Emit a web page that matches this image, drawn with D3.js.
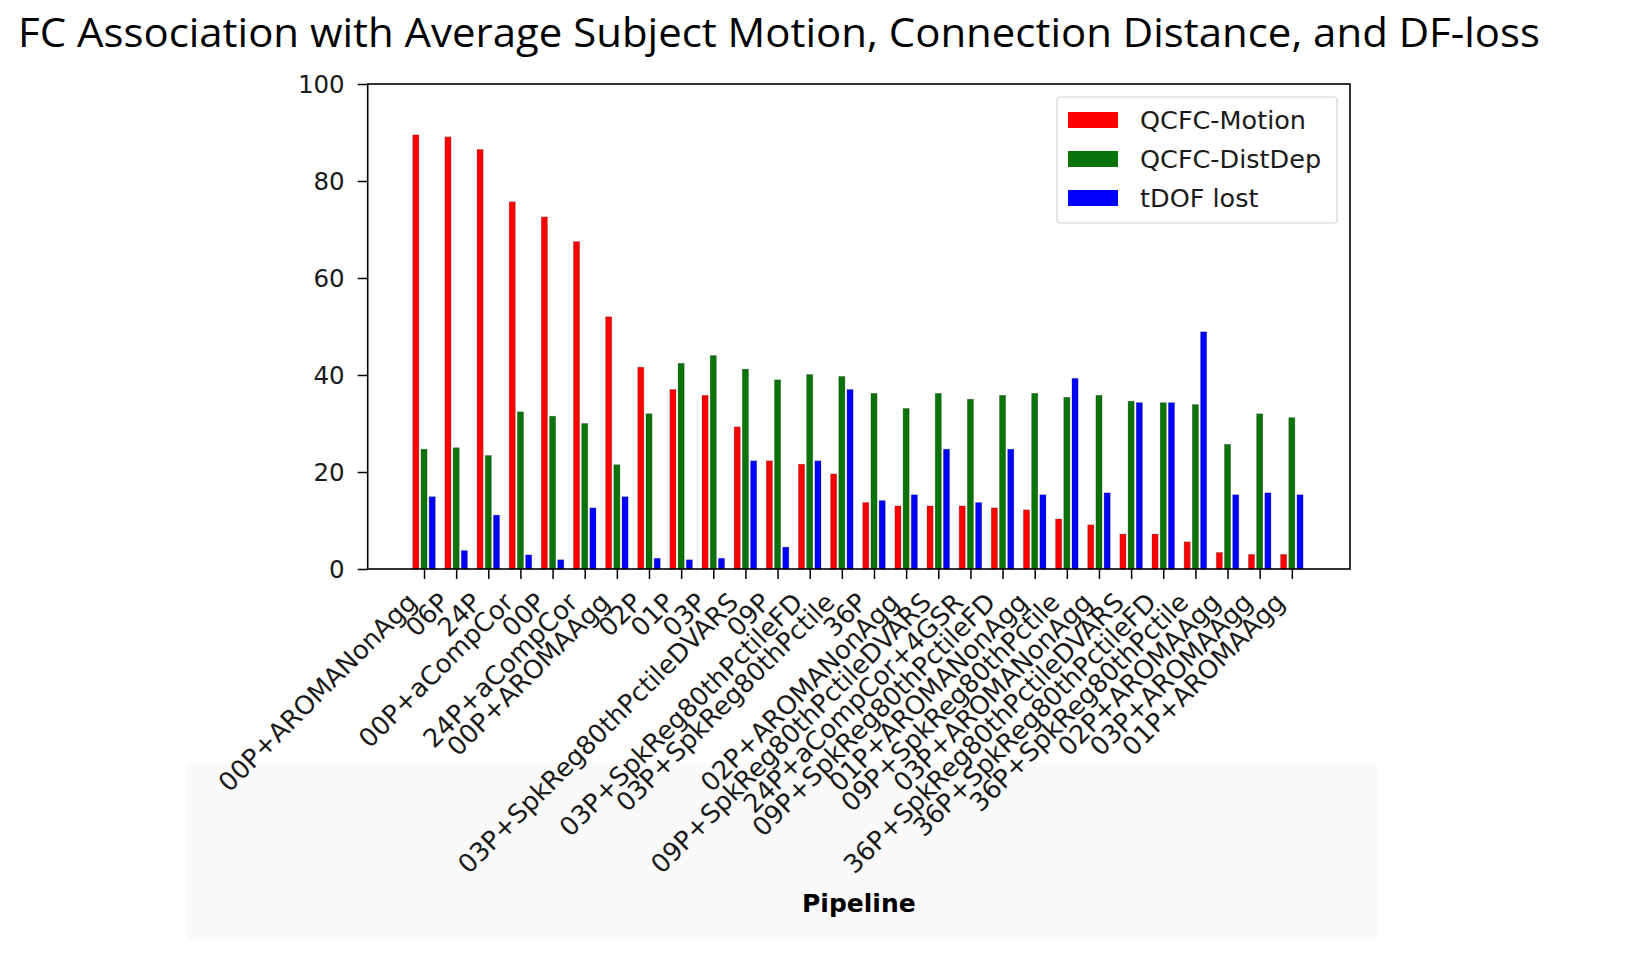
<!DOCTYPE html>
<html>
<head>
<meta charset="utf-8">
<script src="https://cdn.jsdelivr.net/npm/d3@7"></script>
<style>
  html, body { margin: 0; padding: 0; background: #ffffff; }
  svg { display: block; }
</style>
</head>
<body>
<svg id="chart" width="1635" height="967"></svg>
<script>
const pipelines = [
  "00P+AROMANonAgg", "06P", "24P", "00P+aCompCor", "00P", "24P+aCompCor",
  "00P+AROMAAgg", "02P", "01P", "03P", "03P+SpkReg80thPctileDVARS", "09P",
  "03P+SpkReg80thPctileFD", "03P+SpkReg80thPctile", "36P", "02P+AROMANonAgg",
  "09P+SpkReg80thPctileDVARS", "24P+aCompCor+4GSR", "09P+SpkReg80thPctileFD",
  "01P+AROMANonAgg", "09P+SpkReg80thPctile", "03P+AROMANonAgg",
  "36P+SpkReg80thPctileDVARS", "36P+SpkReg80thPctileFD", "36P+SpkReg80thPctile",
  "02P+AROMAAgg", "03P+AROMAAgg", "01P+AROMAAgg"
];
const qcfcMotion = [89.5, 89.1, 86.5, 75.7, 72.6, 67.5, 52.0, 41.6, 37.0, 35.8, 29.3, 22.3,
  21.6, 19.6, 13.7, 13.0, 13.0, 13.0, 12.6, 12.2, 10.3, 9.1, 7.2, 7.2, 5.6, 3.4, 3.0, 3.0];
const qcfcDistDep = [24.7, 25.0, 23.4, 32.4, 31.5, 30.0, 21.5, 32.0, 42.4, 44.0, 41.2, 39.0,
  40.1, 39.7, 36.2, 33.1, 36.2, 35.0, 35.8, 36.2, 35.4, 35.8, 34.6, 34.3, 33.9, 25.7, 32.0, 31.2];
const tdofLost = [14.9, 3.8, 11.1, 2.9, 1.9, 12.6, 14.9, 2.2, 1.9, 2.2, 22.3, 4.5,
  22.3, 37.0, 14.1, 15.3, 24.7, 13.7, 24.7, 15.3, 39.3, 15.7, 34.3, 34.3, 48.9, 15.3, 15.7, 15.3];
const seriesNames = ["QCFC-Motion", "QCFC-DistDep", "tDOF lost"];
const seriesColors = ["#ff0000", "#0a740a", "#0000ff"];
const yTicks = [0, 20, 40, 60, 80, 100];

const series = [qcfcMotion, qcfcDistDep, tdofLost];
const offsets = [-0.255, 0, 0.255];
const barW = 0.19;

const svg = d3.select("#chart");
const plot = { left: 367.7, right: 1350, top: 84, bottom: 569 };

// pasted-image background tint
svg.append("rect").attr("x", 187).attr("y", 763).attr("width", 1190).attr("height", 177)
  .attr("fill", "#fafafa");

// title
svg.append("text")
  .attr("x", 18).attr("y", 46.5)
  .attr("font-family", "'Open Sans', sans-serif")
  .attr("font-size", 40)
  .attr("fill", "#000")
  .attr("textLength", 1522)
  .attr("lengthAdjust", "spacingAndGlyphs")
  .text("FC Association with Average Subject Motion, Connection Distance, and DF-loss");

const x = d3.scaleLinear().domain([-1.752, 28.81]).range([plot.left, plot.right]);
const y = d3.scaleLinear().domain([0, 100]).range([plot.bottom, plot.top]);

const font = "'DejaVu Sans', sans-serif";

// bars
series.forEach((vals, s) => {
  svg.append("g").selectAll("rect").data(vals).join("rect")
    .attr("x", (d, i) => x(i + offsets[s] - barW / 2))
    .attr("width", x(barW) - x(0))
    .attr("y", d => y(d))
    .attr("height", d => y(0) - y(d))
    .attr("fill", seriesColors[s])
    .attr("stroke", "#000")
    .attr("stroke-opacity", 0.25)
    .attr("stroke-width", 0.8);
});

// y axis
const yAxis = svg.append("g")
  .attr("transform", `translate(${plot.left},0)`)
  .call(d3.axisLeft(y).tickValues(yTicks).tickSize(10).tickPadding(13).tickFormat(d3.format("d")));
yAxis.select(".domain").remove();
yAxis.selectAll(".tick line").attr("stroke", "#000").attr("stroke-width", 1.5);
yAxis.selectAll(".tick text")
  .attr("font-family", font).attr("font-size", 24.5).attr("fill", "#1a1a1a")
  .attr("dy", "0.36em");

// x axis
const xAxis = svg.append("g")
  .attr("transform", `translate(0,${plot.bottom})`)
  .call(d3.axisBottom(x).tickValues(d3.range(pipelines.length)).tickSize(10)
    .tickFormat(i => pipelines[i]));
xAxis.select(".domain").remove();
xAxis.selectAll(".tick line").attr("stroke", "#000").attr("stroke-width", 1.5);
xAxis.selectAll(".tick text")
  .attr("font-family", font).attr("font-size", 25.8).attr("fill", "#1a1a1a")
  .attr("text-anchor", "end")
  .attr("y", 0).attr("dy", 0)
  .attr("transform", "translate(-6,35) rotate(-45)");

// frame
svg.append("rect")
  .attr("x", plot.left).attr("y", plot.top)
  .attr("width", plot.right - plot.left).attr("height", plot.bottom - plot.top)
  .attr("fill", "none").attr("stroke", "#000").attr("stroke-width", 1.6);

// x label
svg.append("text")
  .attr("x", (plot.left + plot.right) / 2).attr("y", 911.5)
  .attr("text-anchor", "middle")
  .attr("font-family", font).attr("font-weight", "bold").attr("font-size", 25)
  .attr("fill", "#000")
  .text("Pipeline");

// legend
const lg = svg.append("g");
lg.append("rect").attr("x", 1057).attr("y", 97).attr("width", 280).attr("height", 126)
  .attr("rx", 3).attr("fill", "#fff").attr("fill-opacity", 0.9)
  .attr("stroke", "#d5d5d5").attr("stroke-width", 1.2);
seriesNames.forEach((name, s) => {
  const cy = 120 + s * 39;
  lg.append("rect").attr("x", 1068).attr("y", cy - 8).attr("width", 50).attr("height", 16)
    .attr("fill", seriesColors[s]);
  lg.append("text").attr("x", 1140).attr("y", cy + 8.5)
    .attr("font-family", font).attr("font-size", 25.5).attr("fill", "#1a1a1a")
    .text(name);
});
</script>
</body>
</html>
